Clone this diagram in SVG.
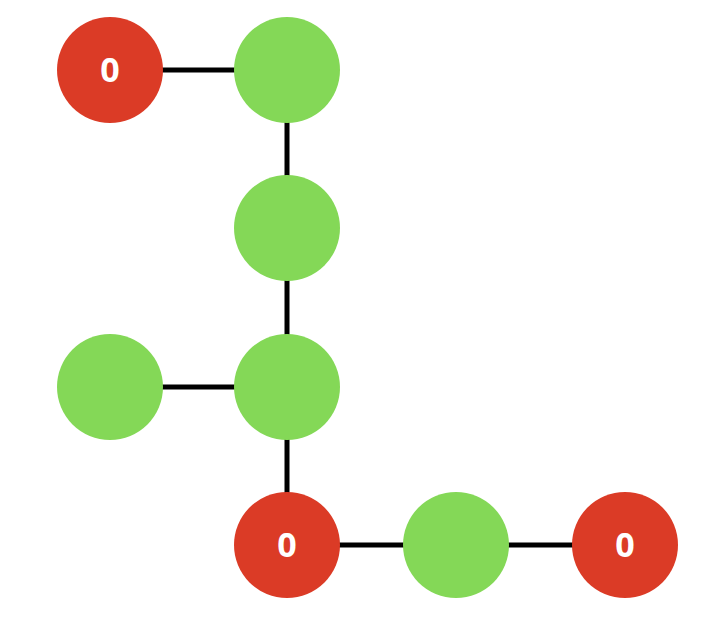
<svg xmlns="http://www.w3.org/2000/svg" width="718" height="626" viewBox="0 0 718 626">
<style>
.edge{stroke:#000;stroke-width:5;fill:none}
.red{fill:#DB3B26}
.green{fill:#84D857}
.lbl{fill:#fff;font-family:"Open Sans","Liberation Sans",sans-serif;font-weight:bold;font-size:34px;text-anchor:middle}
</style>
<rect width="718" height="626" fill="#fff"/>
<g id="edges">
<line class="edge" x1="110" y1="70" x2="287" y2="70"/>
<line class="edge" x1="287" y1="70" x2="287" y2="228"/>
<line class="edge" x1="287" y1="228" x2="287" y2="387"/>
<line class="edge" x1="110" y1="387" x2="287" y2="387"/>
<line class="edge" x1="287" y1="387" x2="287" y2="545"/>
<line class="edge" x1="287" y1="545" x2="456" y2="545"/>
<line class="edge" x1="456" y1="545" x2="625" y2="545"/>
</g>
<g id="n1"><circle class="red" cx="110" cy="70" r="53"/><text class="lbl" x="110" y="82">0</text></g>
<g id="n2"><circle class="green" cx="287" cy="70" r="53"/></g>
<g id="n3"><circle class="green" cx="287" cy="228" r="53"/></g>
<g id="n4"><circle class="green" cx="110" cy="387" r="53"/></g>
<g id="n5"><circle class="green" cx="287" cy="387" r="53"/></g>
<g id="n6"><circle class="red" cx="287" cy="545" r="53"/><text class="lbl" x="287" y="557">0</text></g>
<g id="n7"><circle class="green" cx="456" cy="545" r="53"/></g>
<g id="n8"><circle class="red" cx="625" cy="545" r="53"/><text class="lbl" x="625" y="557">0</text></g>
</svg>
